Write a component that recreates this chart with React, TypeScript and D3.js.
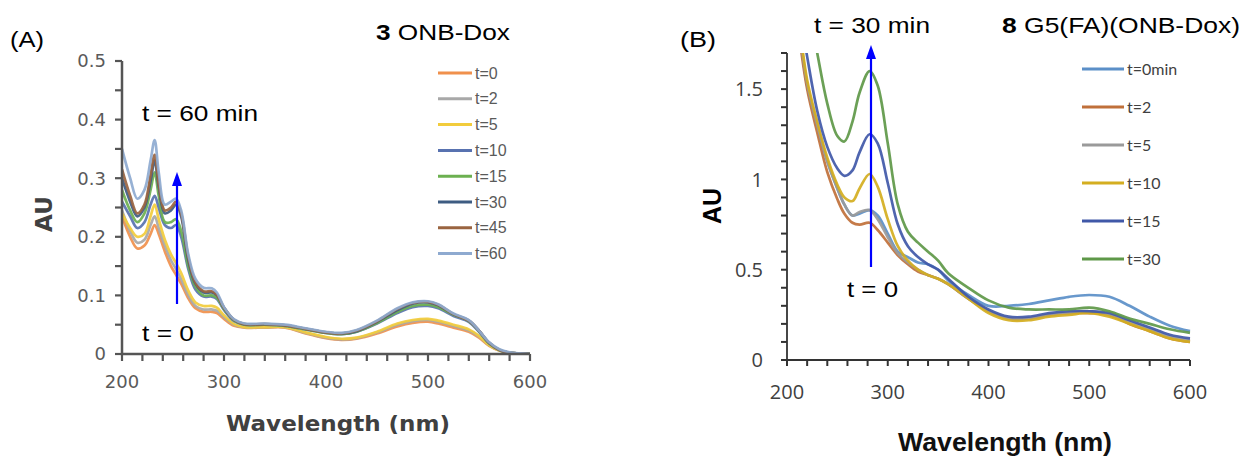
import React from 'react';
import * as d3 from 'd3';

// ---- Panel A: 3 ONB-Dox ----
const wavelengthsA = [200, 208, 215, 222, 228, 232, 236, 242, 248, 253, 258, 265, 272, 280, 288, 293, 300, 310, 320, 340, 360, 380, 400, 415, 430, 450, 470, 485, 500, 510, 525, 540, 550, 560, 570, 580, 590, 600];
const seriesNamesA = ['t=0', 't=2', 't=5', 't=10', 't=15', 't=30', 't=45', 't=60'];
const colorsA = ['#F0904C', '#A8A8A8', '#F2CC3C', '#5872B0', '#6CB050', '#3E5C82', '#9A6440', '#8EAAD0'];
const a_t0 = [0.235, 0.2, 0.18, 0.185, 0.205, 0.22, 0.205, 0.175, 0.15, 0.135, 0.12, 0.095, 0.078, 0.072, 0.072, 0.07, 0.06, 0.048, 0.045, 0.045, 0.045, 0.035, 0.027, 0.024, 0.026, 0.035, 0.047, 0.053, 0.055, 0.052, 0.045, 0.038, 0.028, 0.014, 0.006, 0.002, 0.001, 0];
const a_t2 = [0.245, 0.21, 0.19, 0.195, 0.22, 0.235, 0.215, 0.185, 0.16, 0.145, 0.128, 0.1, 0.082, 0.076, 0.076, 0.074, 0.063, 0.05, 0.046, 0.046, 0.046, 0.036, 0.028, 0.025, 0.027, 0.037, 0.05, 0.056, 0.058, 0.055, 0.048, 0.04, 0.03, 0.015, 0.006, 0.002, 0.001, 0];
const a_t5 = [0.24, 0.215, 0.2, 0.205, 0.235, 0.255, 0.23, 0.195, 0.17, 0.155, 0.138, 0.108, 0.088, 0.082, 0.082, 0.079, 0.066, 0.051, 0.046, 0.046, 0.046, 0.037, 0.029, 0.026, 0.028, 0.038, 0.052, 0.058, 0.06, 0.057, 0.05, 0.042, 0.031, 0.015, 0.006, 0.002, 0.001, 0];
const a_t10 = [0.26, 0.235, 0.215, 0.225, 0.255, 0.27, 0.25, 0.22, 0.215, 0.22, 0.2, 0.145, 0.11, 0.098, 0.098, 0.094, 0.075, 0.056, 0.05, 0.05, 0.048, 0.042, 0.036, 0.034, 0.038, 0.052, 0.07, 0.08, 0.082, 0.078, 0.065, 0.055, 0.038, 0.018, 0.007, 0.002, 0.001, 0];
const a_t15 = [0.28, 0.245, 0.225, 0.24, 0.28, 0.31, 0.27, 0.225, 0.225, 0.23, 0.21, 0.15, 0.115, 0.1, 0.1, 0.096, 0.077, 0.057, 0.05, 0.05, 0.048, 0.042, 0.036, 0.034, 0.038, 0.053, 0.072, 0.082, 0.084, 0.08, 0.067, 0.056, 0.039, 0.018, 0.007, 0.002, 0.001, 0];
const a_t30 = [0.3, 0.26, 0.235, 0.25, 0.295, 0.33, 0.285, 0.24, 0.245, 0.255, 0.235, 0.16, 0.12, 0.105, 0.105, 0.1, 0.079, 0.058, 0.051, 0.051, 0.049, 0.043, 0.037, 0.035, 0.039, 0.055, 0.075, 0.086, 0.088, 0.083, 0.068, 0.057, 0.04, 0.019, 0.007, 0.002, 0.001, 0];
const a_t45 = [0.315, 0.27, 0.24, 0.255, 0.305, 0.34, 0.29, 0.245, 0.25, 0.26, 0.24, 0.165, 0.122, 0.107, 0.107, 0.101, 0.079, 0.058, 0.051, 0.051, 0.049, 0.043, 0.037, 0.035, 0.04, 0.056, 0.077, 0.087, 0.089, 0.084, 0.068, 0.057, 0.04, 0.019, 0.007, 0.002, 0.001, 0];
const a_t60 = [0.35, 0.3, 0.265, 0.28, 0.33, 0.365, 0.31, 0.255, 0.26, 0.265, 0.245, 0.17, 0.128, 0.113, 0.112, 0.105, 0.08, 0.059, 0.052, 0.052, 0.05, 0.044, 0.038, 0.036, 0.041, 0.057, 0.078, 0.088, 0.09, 0.085, 0.069, 0.058, 0.04, 0.02, 0.008, 0.003, 0.001, 0];
const valuesA = [a_t0, a_t2, a_t5, a_t10, a_t15, a_t30, a_t45, a_t60];
const yTicksA = [0, 0.1, 0.2, 0.3, 0.4, 0.5];

// ---- Panel B: 8 G5(FA)(ONB-Dox) ----
const wavelengthsB = [212, 220, 230, 240, 250, 257, 265, 272, 282, 290, 300, 310, 320, 330, 340, 350, 360, 380, 400, 420, 440, 460, 480, 500, 520, 540, 560, 580, 600];
const seriesNamesB = ['t=0min', 't=2', 't=5', 't=10', 't=15', 't=30'];
const colorsB = ['#5B8FC8', '#C0703A', '#9A9A9A', '#D4AE20', '#4058A8', '#5E9848'];
const b_t0 = [1.85, 1.52, 1.3, 1.1, 0.95, 0.86, 0.8, 0.81, 0.83, 0.8, 0.7, 0.6, 0.57, 0.54, 0.53, 0.5, 0.44, 0.36, 0.3, 0.3, 0.31, 0.33, 0.35, 0.36, 0.35, 0.3, 0.24, 0.19, 0.16];
const b_t2 = [1.8, 1.5, 1.26, 1.04, 0.89, 0.81, 0.76, 0.75, 0.76, 0.72, 0.65, 0.58, 0.53, 0.49, 0.47, 0.45, 0.42, 0.34, 0.27, 0.23, 0.23, 0.25, 0.26, 0.26, 0.25, 0.2, 0.16, 0.12, 0.1];
const b_t5 = [1.85, 1.53, 1.3, 1.1, 0.95, 0.86, 0.8, 0.82, 0.83, 0.78, 0.68, 0.59, 0.54, 0.5, 0.47, 0.45, 0.42, 0.34, 0.27, 0.23, 0.23, 0.25, 0.26, 0.27, 0.25, 0.21, 0.17, 0.13, 0.11];
const b_t10 = [1.88, 1.55, 1.32, 1.12, 0.97, 0.9, 0.88, 0.95, 1.03, 0.96, 0.78, 0.63, 0.55, 0.5, 0.47, 0.45, 0.42, 0.34, 0.26, 0.22, 0.22, 0.24, 0.25, 0.26, 0.24, 0.2, 0.16, 0.12, 0.1];
const b_t15 = [1.95, 1.68, 1.38, 1.18, 1.06, 1.02, 1.05, 1.15, 1.25, 1.2, 0.98, 0.75, 0.63, 0.57, 0.53, 0.5, 0.45, 0.35, 0.28, 0.24, 0.24, 0.26, 0.27, 0.27, 0.26, 0.22, 0.18, 0.14, 0.12];
const b_t30 = [2.3, 2.0, 1.7, 1.42, 1.24, 1.21, 1.32, 1.48, 1.6, 1.52, 1.2, 0.86, 0.71, 0.65, 0.6, 0.55, 0.48, 0.4, 0.33, 0.29, 0.28, 0.28, 0.28, 0.29, 0.27, 0.23, 0.2, 0.17, 0.15];
const valuesB = [b_t0, b_t2, b_t5, b_t10, b_t15, b_t30];
const yTicksB = [0, 0.5, 1, 1.5];

const xTicks = [200, 300, 400, 500, 600];

const W = 1244;
const H = 457;

// scales for each panel
const xA = d3.scaleLinear().domain([200, 600]).range([122, 530]);
const yA = d3.scaleLinear().domain([0, 0.5]).range([354, 61]);
const xB = d3.scaleLinear().domain([200, 600]).range([787, 1190]);
const yB = d3.scaleLinear().domain([0, 1.7]).range([360, 53]);

function tickMarks(x: any, y: any, yCount: number, yStep: number, len: number, color: string, width: number) {
  const [x0] = x.range();
  const [yBottom] = y.range();
  const out: any[] = [];
  for (let k = 0; k <= yCount; k++) {
    const yy = y(k * yStep);
    out.push(<line key={'ty' + k} x1={x0 - len} x2={x0} y1={yy} y2={yy} stroke={color} strokeWidth={width} />);
  }
  d3.range(200, 601, 20).forEach((t) => {
    const xx = x(t);
    out.push(<line key={'tx' + t} x1={xx} x2={xx} y1={yBottom} y2={yBottom + len} stroke={color} strokeWidth={width} />);
  });
  return out;
}

function Panel(props: any) {
  const {
    wl, values, colors, names, x, y, yTicks, tickFmt,
    axisColor, axisWidth, labelColor, labelFont, labelSize, lineWidth, clipId, legend,
    yLabelGap, xLabelOffset,
  } = props;
  const [x0, x1] = x.range();
  const [yBottom, yTop] = y.range();
  const lineGen = d3.line<number>()
    .x((_, i) => x(wl[i]))
    .y((d) => y(d))
    .curve(d3.curveCatmullRom.alpha(0.5));
  return (
    <g>
      <defs>
        <clipPath id={clipId}>
          <rect x={x0} y={yTop} width={x1 - x0 + 2} height={yBottom - yTop} />
        </clipPath>
      </defs>
      <g clipPath={`url(#${clipId})`}>
        {values.map((v: number[], i: number) => (
          <path key={i} d={lineGen(v) || ''} fill="none" stroke={colors[i]} strokeWidth={lineWidth}
            strokeLinejoin="round" opacity={0.92} />
        ))}
      </g>
      <path d={`M${x0},${yTop}V${yBottom}H${x1}`} fill="none" stroke={axisColor} strokeWidth={axisWidth} />
      {yTicks.map((t: number) => (
        <text key={'yl' + t} x={x0 - yLabelGap} y={y(t)} dy="0.36em" textAnchor="end" fill={labelColor}
          fontFamily={labelFont} fontSize={labelSize}>{tickFmt(t)}</text>
      ))}
      {xTicks.map((t: number) => (
        <text key={'xl' + t} x={x(t)} y={yBottom + xLabelOffset} textAnchor="middle" fill={labelColor}
          fontFamily={labelFont} fontSize={labelSize}>{t}</text>
      ))}
      {names.map((n: string, i: number) => (
        <g key={'lg' + n}>
          <path d={`M${legend.x},${legend.y + i * legend.step}h${legend.len}`} stroke={colors[i]} strokeWidth={3} />
          <text x={legend.x + legend.len + 3} y={legend.y + i * legend.step} dy="0.35em"
            fill={labelColor} fontFamily={legend.font} fontSize={legend.size}>{n}</text>
        </g>
      ))}
    </g>
  );
}

function Arrow({ x, y1, y2 }: { x: number; y1: number; y2: number }) {
  return (
    <g>
      <path d={`M${x},${y1}V${y2 + 10}`} stroke="#0000FF" strokeWidth={2.2} />
      <path d={`M${x},${y2} L${x - 5},${y2 + 14} L${x + 5},${y2 + 14} Z`} fill="#0000FF" />
    </g>
  );
}

// wide annotation text (the source figure is horizontally stretched)
function Label({ x, y, w, children, size = 22 }: any) {
  return (
    <text x={x} y={y} fontFamily="Liberation Sans, Arial, sans-serif" fontSize={size} fill="#000"
      textLength={w} lengthAdjust="spacingAndGlyphs">{children}</text>
  );
}

export default function App() {
  const sans = 'Liberation Sans, Arial, sans-serif';
  return (
    <svg width={W} height={H} style={{ position: 'absolute', left: 0, top: 0, background: '#fff' }}>
      {/* Panel A */}
      <Label x={10} y={47} w={34}>(A)</Label>
      <Label x={376} y={40} w={134}><tspan fontWeight="bold">3</tspan> ONB-Dox</Label>
      {tickMarks(xA, yA, 10, 0.05, 7, '#555555', 2.2)}
      <Panel
        wl={wavelengthsA} values={valuesA} colors={colorsA} names={seriesNamesA}
        x={xA} y={yA} yTicks={yTicksA}
        tickFmt={(t: number) => (t === 0 ? '0' : t.toFixed(1))}
        axisColor="#555555" axisWidth={2.5} labelColor="#5a5a5a" labelFont="DejaVu Sans, sans-serif" labelSize={18}
        lineWidth={2.7} clipId="clipA" yLabelGap={16} xLabelOffset={34}
        legend={{ x: 438, y: 73, len: 34, step: 25.8, size: 16, font: 'Liberation Sans, Arial, sans-serif' }}
      />
      <text x={44} y={214} transform="rotate(-90 44 214)" textAnchor="middle" dy="0.35em"
        fontFamily="DejaVu Sans, sans-serif" fontWeight="bold" fontSize={23} fill="#404040">AU</text>
      <text x={338} y={431} textAnchor="middle" fontFamily="DejaVu Sans, sans-serif" fontWeight="bold"
        fontSize={22} fill="#404040" textLength={224} lengthAdjust="spacingAndGlyphs">Wavelength (nm)</text>
      <Label x={142} y={121} w={116}>t = 60 min</Label>
      <Label x={142} y={341} w={52}>t = 0</Label>
      <Arrow x={177} y1={304} y2={172} />

      {/* Panel B */}
      <Label x={680} y={47} w={36}>(B)</Label>
      <Label x={1002} y={33} w={238}><tspan fontWeight="bold">8</tspan> G5(FA)(ONB-Dox)</Label>
      {tickMarks(xB, yB, 17, 0.1, 6, '#333333', 2)}
      <Panel
        wl={wavelengthsB} values={valuesB} colors={colorsB} names={seriesNamesB}
        x={xB} y={yB} yTicks={yTicksB}
        tickFmt={(t: number) => String(t)}
        axisColor="#333333" axisWidth={1.8} labelColor="#404040" labelFont="Open Sans, sans-serif" labelSize={20}
        lineWidth={2.7} clipId="clipB" yLabelGap={24} xLabelOffset={39}
        legend={{ x: 1082, y: 69, len: 42, step: 38, size: 16, font: 'Lato, sans-serif' }}
      />
      <text x={712} y={206} transform="rotate(-90 712 206)" textAnchor="middle" dy="0.35em"
        fontFamily={sans} fontWeight="bold" fontSize={25} fill="#000">AU</text>
      <text x={1005} y={451} textAnchor="middle" fontFamily={sans} fontWeight="bold"
        fontSize={25} fill="#111" textLength={214} lengthAdjust="spacingAndGlyphs">Wavelength (nm)</text>
      <Label x={814} y={33} w={116}>t = 30 min</Label>
      <Label x={847} y={297} w={51}>t = 0</Label>
      <Arrow x={871} y1={267} y2={45} />
    </svg>
  );
}
